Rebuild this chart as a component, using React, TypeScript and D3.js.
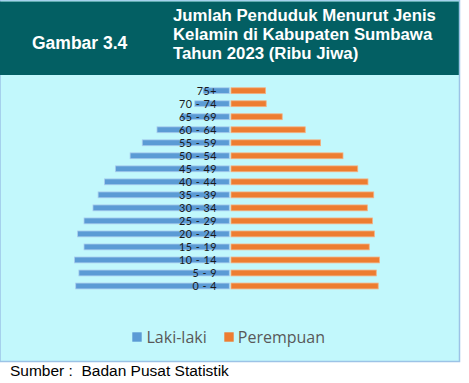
import React from "react";
import * as d3 from "d3";

const ageGroups = ["75+", "70 - 74", "65 - 69", "60 - 64", "55 - 59", "50 - 54", "45 - 49", "40 - 44", "35 - 39", "30 - 34", "25 - 29", "20 - 24", "15 - 19", "10 - 14", "5 - 9", "0 - 4"];
const laki = [4.1, 5.4, 7.5, 11.3, 13.6, 15.5, 17.8, 19.5, 20.5, 21.3, 22.7, 23.7, 22.7, 24.2, 23.5, 24.0];
const perempuan = [5.4, 5.5, 8.0, 11.6, 14.0, 17.5, 19.8, 21.4, 22.3, 21.3, 22.1, 22.4, 21.6, 23.2, 22.7, 23.0];
const seriesNames = ["Laki-laki", "Perempuan"];
const colors = ["#5b9bd5", "#ed7d31"];

export default function App() {
  const W = 469, H = 383;
  const y = d3.scaleBand<string>().domain(ageGroups).range([84.2, 292.5]).paddingInner(0.55).paddingOuter(0.275);
  const xR = d3.scaleLinear().domain([0, 25]).range([231, 391]);
  const xL = d3.scaleLinear().domain([0, 25]).range([229.3, 69.3]);
  const bh = y.bandwidth();
  return (
    <svg width={W} height={H} style={{ position: "absolute", left: 0, top: 0 }}>
      <rect x={0} y={0} width={W} height={H} fill="#ffffff" />
      <rect x={0} y={0} width={459.5} height={361.5} fill="#c2f8fc" stroke="#9cc3e6" strokeWidth={1.5} />
      <rect x={0} y={1.5} width={458.8} height={73.5} fill="#035f63" />
      <text x={32} y={49.3} fill="#ffffff" fontFamily="Liberation Sans, Arial, sans-serif" fontWeight="bold" fontSize={17.5}>Gambar 3.4</text>
      {["Jumlah Penduduk Menurut Jenis", "Kelamin di Kabupaten Sumbawa", "Tahun 2023 (Ribu Jiwa)"].map((t, i) => (
        <text key={i} x={173} y={20.7 + i * 19.2} fill="#ffffff" fontFamily="Liberation Sans, Arial, sans-serif" fontWeight="bold" fontSize={16.8}>{t}</text>
      ))}
      {ageGroups.map((g, i) => (
        <g key={g}>
          <rect x={xL(laki[i])} y={y(g)!} width={xL(0) - xL(laki[i])} height={bh} fill={colors[0]} stroke="#a9cdee" strokeWidth={0.8} />
          <rect x={xR(0)} y={y(g)!} width={xR(perempuan[i]) - xR(0)} height={bh} fill={colors[1]} stroke="#f4b183" strokeWidth={0.8} />
        </g>
      ))}
      {ageGroups.map((g) => (
        <text key={"l" + g} x={217} y={y(g)! + bh / 2} dy="0.36em" textAnchor="end" fill="#1a1a1a" fontFamily="Lato, sans-serif" fontSize={10.8} letterSpacing={0.5}>{g}</text>
      ))}
      <rect x={132.3} y={332.3} width={9.4} height={9.4} fill={colors[0]} />
      <text x={146.5} y={342.7} fill="#595959" fontFamily="Open Sans, sans-serif" fontSize={16}>{seriesNames[0]}</text>
      <rect x={224.3} y={332.3} width={9.4} height={9.4} fill={colors[1]} />
      <text x={237.8} y={342.7} fill="#595959" fontFamily="Open Sans, sans-serif" fontSize={16}>{seriesNames[1]}</text>
      <text x={10} y={376.3} fill="#000000" fontFamily="Liberation Sans, Arial, sans-serif" fontSize={15.5} style={{ whiteSpace: "pre" }}>{"Sumber :  Badan Pusat Statistik"}</text>
    </svg>
  );
}
